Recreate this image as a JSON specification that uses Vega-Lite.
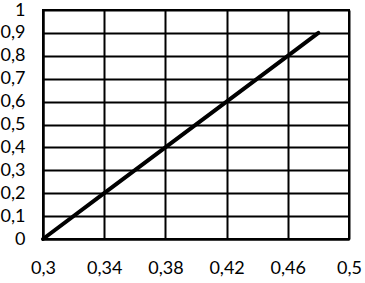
{
  "$schema": "https://vega.github.io/schema/vega-lite/v6.json",
  "width": 306,
  "height": 229,
  "autosize": {"type": "none"},
  "padding": {"left": 43, "top": 10, "right": 16, "bottom": 44},
  "background": "white",
  "data": {"values": [
    {"x": 0.30, "y": 0.0},
    {"x": 0.34, "y": 0.2},
    {"x": 0.38, "y": 0.4},
    {"x": 0.42, "y": 0.6},
    {"x": 0.46, "y": 0.8},
    {"x": 0.48, "y": 0.9}
  ]},
  "mark": {"type": "line", "color": "black", "strokeWidth": 4, "strokeCap": "round"},
  "encoding": {
    "x": {"field": "x", "type": "quantitative",
      "scale": {"domain": [0.3, 0.5], "nice": false, "zero": false},
      "axis": {"title": null, "values": [0.3, 0.34, 0.38, 0.42, 0.46, 0.5], "format": ".2~f",
        "labelExpr": "replace(datum.label, '.', ',')", "labelPadding": 20, "labelFlush": false}},
    "y": {"field": "y", "type": "quantitative",
      "scale": {"domain": [0, 1], "nice": false},
      "axis": {"title": null, "values": [0, 0.1, 0.2, 0.3, 0.4, 0.5, 0.6, 0.7, 0.8, 0.9, 1], "format": "~g",
        "labelExpr": "replace(datum.label, '.', ',')", "labelPadding": 18, "labelFlush": false}}
  },
  "config": {
    "view": {"stroke": "black", "strokeWidth": 2},
    "axis": {
      "grid": true, "gridColor": "black", "gridOpacity": 1, "gridWidth": 2,
      "domain": true, "domainColor": "black", "domainWidth": 2,
      "ticks": false,
      "labelFont": "Lato", "labelFontSize": 18, "labelColor": "black"
    }
  }
}
